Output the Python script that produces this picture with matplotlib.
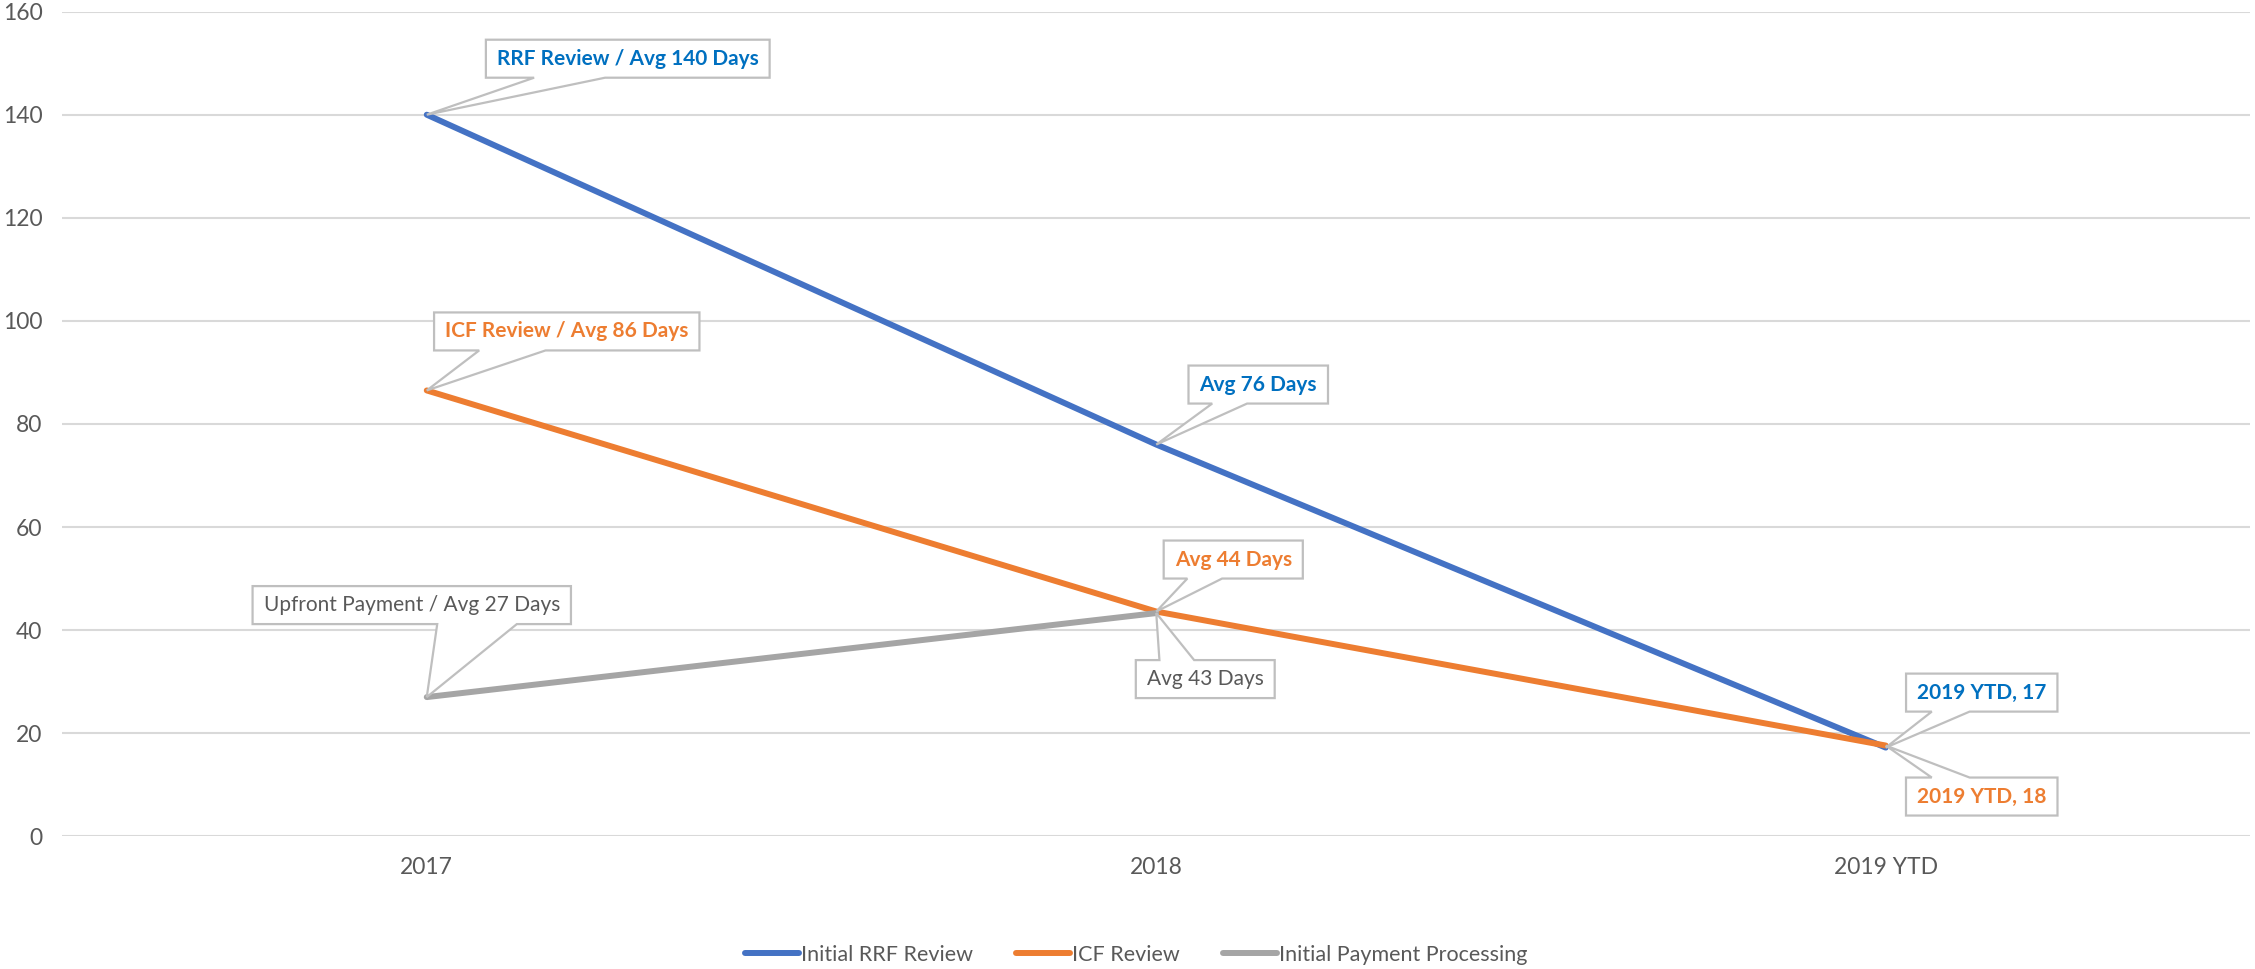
import numpy as np
from matplotlib import pyplot as plt
from matplotlib.patches import Polygon
from matplotlib.transforms import IdentityTransform, offset_copy

plt.rcParams['font.family'] = ['Lato', 'DejaVu Sans']

categories = ['2017', '2018', '2019 YTD']
rrf_review = [140, 76, 17.2]
icf_review = [86.5, 43.6, 17.6]
payment_processing = [27, 43.3]

series_names = ['Initial RRF Review', 'ICF Review', 'Initial Payment Processing']
line_colors = ['#4472C4', '#ED7D31', '#A5A5A5']
label_colors = ['#0070C0', '#ED7D31', '#595959']

# (series index, point index, text, offset px x, offset px y, bold)
callouts = [
    (0, 0, 'RRF Review / Avg 140 Days', 201, 56, True),
    (1, 0, 'ICF Review / Avg 86 Days', 140, 59, True),
    (2, 0, 'Upfront Payment / Avg 27 Days', -15, 92, False),
    (0, 1, 'Avg 76 Days', 102, 60, True),
    (1, 1, 'Avg 44 Days', 77, 52, True),
    (2, 1, 'Avg 43 Days', 49, -66, False),
    (0, 2, '2019 YTD, 17', 96, 55, True),
    (1, 2, '2019 YTD, 18', 96, -51, True),
]

fig = plt.figure(figsize=(22.55, 9.69), dpi=100)
ax = fig.add_axes([0.0275, 0.137, 0.9705, 0.851])

all_series = [rrf_review, icf_review, payment_processing]
x = np.arange(len(categories))
for vals, name, c in zip(all_series, series_names, line_colors):
    ax.plot(x[:len(vals)], vals, color=c, lw=4.3, label=name,
            solid_capstyle='round', zorder=3)

ax.set_xlim(-0.5, 2.5)
ax.set_ylim(0, 160)
ax.set_yticks(np.arange(0, 161, 20))
ax.set_xticks(x)
ax.set_xticklabels(categories)
ax.grid(axis='y', color='#D9D9D9', lw=1.5, zorder=0)
ax.set_axisbelow(True)
for s in ax.spines.values():
    s.set_visible(False)
ax.tick_params(length=0, labelsize=16.5, colors='#595959')
ax.tick_params(axis='y', pad=14)
ax.tick_params(axis='x', pad=15)

fig.legend(loc='center', bbox_to_anchor=(0.504, 0.0145), ncol=3, frameon=False,
           fontsize=15.5, labelcolor='#595959', handlelength=2.5,
           handletextpad=0.1, columnspacing=2.0)

# data labels: text first, callout shape built around it once sizes are known
texts = []
for si, pi, txt, dx, dy, bold in callouts:
    tr = offset_copy(ax.transData, fig=fig, x=dx, y=dy, units='dots')
    t = ax.text(x[pi], all_series[si][pi], txt, transform=tr,
                ha='center', va='center', fontsize=15,
                fontweight='bold' if bold else 'normal',
                color=label_colors[si], zorder=6)
    texts.append((t, si, pi))

fig.canvas.draw()
rend = fig.canvas.get_renderer()
for t, si, pi in texts:
    bb = t.get_window_extent(rend)
    px, py = ax.transData.transform((x[pi], all_series[si][pi]))
    cx, cy = (bb.x0 + bb.x1) / 2, (bb.y0 + bb.y1) / 2
    w = bb.width + 22
    h = 38
    x0, x1 = cx - w / 2, cx + w / 2
    y0, y1 = cy - h / 2, cy + h / 2
    if px < cx:
        a, b = x0 + 0.17 * w, x0 + 0.42 * w
    else:
        a, b = x0 + 0.58 * w, x0 + 0.83 * w
    if py < y0:
        verts = [(x0, y1), (x1, y1), (x1, y0), (b, y0), (px, py), (a, y0), (x0, y0)]
    else:
        verts = [(x0, y0), (x1, y0), (x1, y1), (b, y1), (px, py), (a, y1), (x0, y1)]
    poly = Polygon(verts, closed=True, fc='white', ec='#BFBFBF', lw=1.6,
                   transform=IdentityTransform(), zorder=5)
    ax.add_patch(poly)

fig.savefig('out.png', dpi=100)
